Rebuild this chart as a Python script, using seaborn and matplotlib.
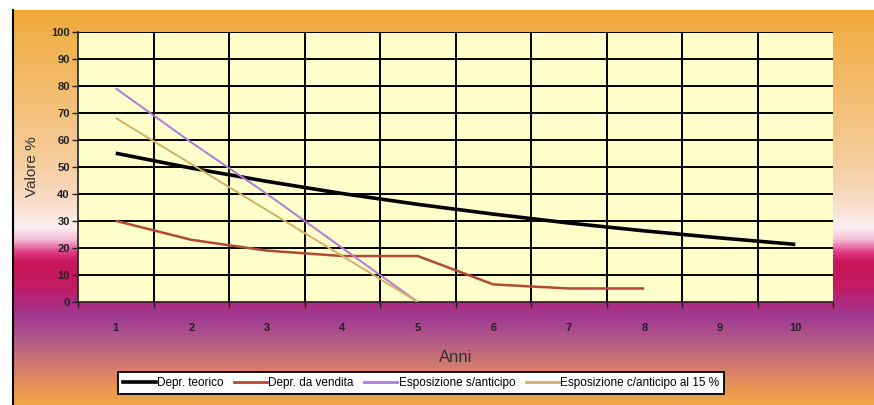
import numpy as np
import pandas as pd
import seaborn as sns
import matplotlib.pyplot as plt
from matplotlib.colors import LinearSegmentedColormap
from matplotlib.lines import Line2D

# Years and the four value series (%)
anni = [1, 2, 3, 4, 5, 6, 7, 8, 9, 10]
depr_teorico = [55.0, 49.5, 44.6, 40.1, 36.1, 32.5, 29.2, 26.3, 23.7, 21.3]
depr_vendita = [30.0, 23.0, 19.0, 17.0, 17.0, 6.5, 5.0, 5.0]
espos_s_anticipo = [79.0, 59.0, 40.0, 20.0, 0.0]
espos_c_anticipo = [68.0, 51.0, 34.0, 17.0, 0.0]

serie = ["Depr. teorico", "Depr. da vendita", "Esposizione s/anticipo",
         "Esposizione c/anticipo al 15 %"]
colori = ["#000000", "#B04A32", "#B27AD6", "#D2B264"]
spessori = [2.6, 1.8, 1.4, 1.4]

valori = [depr_teorico, depr_vendita, espos_s_anticipo, espos_c_anticipo]
df = pd.concat(
    [pd.DataFrame({"Anni": anni[:len(v)], "Valore": v, "Serie": s})
     for s, v in zip(serie, valori)],
    ignore_index=True,
)

W, H = 874, 405
fig = plt.figure(figsize=(W / 100, H / 100), dpi=100)

# Gradient backdrop behind the whole chart
stops = [
    (10, "#EFA83A"), (40, "#F1B250"), (100, "#F3BE74"), (160, "#F5CC9C"),
    (200, "#F8DCC6"), (228, "#FBEEF0"), (240, "#F4BCD6"), (252, "#DE3C88"),
    (262, "#C8165A"), (285, "#C21A60"), (300, "#B2287C"), (318, "#A03A92"),
    (340, "#B25888"), (365, "#D07A70"), (385, "#E49058"), (405, "#F0A646"),
]
ys = np.array([s[0] for s in stops], dtype=float)
pos = (ys - ys[0]) / (ys[-1] - ys[0])
cmap = LinearSegmentedColormap.from_list("sfondo", list(zip(pos, [s[1] for s in stops])))

bg = fig.add_axes([0, 0, 1, 1], zorder=-10)
grad = np.linspace(0, 1, 400).reshape(-1, 1)
bg.imshow(grad, cmap=cmap, aspect="auto", extent=[12, W, H, 10])
bg.set_xlim(0, W)
bg.set_ylim(H, 0)
bg.axvline(12.5, ymin=0, ymax=1 - 10 / H, color="black", lw=1.5)
bg.axis("off")

# Plot area
ax = fig.add_axes([78 / W, 1 - 302 / H, (833 - 78) / W, (302 - 31.5) / H])
ax.set_facecolor("#FFFFCC")

sns.lineplot(data=df, x="Anni", y="Valore", hue="Serie", hue_order=serie,
             palette=colori, ax=ax, legend=False, sort=False, estimator=None)
for line, lw in zip(ax.get_lines(), spessori):
    line.set_linewidth(lw)
    line.set_solid_capstyle("butt")
    line.set_zorder(3)

ax.set_xlim(0.5, 10.5)
ax.set_ylim(0, 100)
ax.set_yticks(np.arange(0, 101, 10))
ax.set_xticks(anni)
ax.set_xticks(np.arange(0.5, 10.6, 1), minor=True)

ax.grid(False)
for y in range(10, 101, 10):
    ax.axhline(y, color="black", lw=1.4, zorder=1)
for x in np.arange(1.5, 10.0, 1):
    ax.axvline(x, color="black", lw=1.4, zorder=1)

for side in ["top", "right"]:
    ax.spines[side].set_visible(False)
for side in ["left", "bottom"]:
    ax.spines[side].set_color("#222222")
    ax.spines[side].set_linewidth(1.2)

fam = ["Liberation Sans Narrow", "Liberation Sans", "DejaVu Sans"]
ax.tick_params(axis="y", which="major", length=4, width=1, color="#222222",
               labelsize=8, labelcolor="#222222", pad=2)
ax.tick_params(axis="x", which="major", length=0, labelsize=8,
               labelcolor="#222222", pad=15)
ax.tick_params(axis="x", which="minor", length=4, width=1, color="#222222")
for lab in ax.get_xticklabels() + ax.get_yticklabels():
    lab.set_family(fam)
    lab.set_fontweight("bold")

ax.set_xlabel("Anni", fontsize=12, color="#333333", family=fam, labelpad=12)
ax.set_ylabel("Valore %", fontsize=11, color="#333333", family=fam, labelpad=9)

handles = [Line2D([0], [0], color=c, lw=max(lw, 2.0)) for c, lw in zip(colori, spessori)]
leg = fig.legend(handles, serie, loc="center", bbox_to_anchor=(421 / W, 1 - 383 / H),
                 ncol=4, frameon=True, fancybox=False, framealpha=1,
                 edgecolor="black", facecolor="white",
                 prop={"family": fam, "size": 8.5}, handlelength=2.8,
                 handletextpad=0.1, columnspacing=0.9, borderpad=0.4)
leg.get_frame().set_linewidth(1.3)

fig.savefig("out.png", dpi=100)
